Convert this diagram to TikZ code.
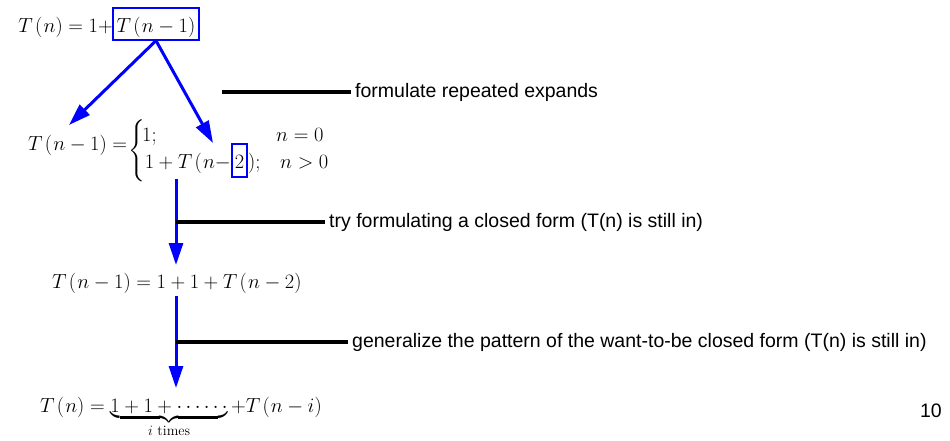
\RequirePackage{fix-cm}
\documentclass[tikz,border=0pt]{standalone}
\usepackage{amsmath}
\usepackage{fontspec}
\newfontfamily\arial{Liberation Sans}
\usetikzlibrary{arrows.meta}
\begin{document}
\begin{tikzpicture}[x=1pt,y=-1pt,
  mth/.style={inner sep=0pt, font=\fontsize{20.4}{24}\selectfont},
  lbl/.style={inner xsep=4pt, inner ysep=0pt, anchor=west, font=\arial\fontsize{19.5}{23}\selectfont},
  blu/.style={draw=blue, line width=3pt, -{Triangle[length=22pt,width=14pt]}},
  blk/.style={draw=black, line width=3.2pt},
  bx/.style={draw=blue, line width=1.3pt, inner sep=0pt}]
\useasboundingbox (0,0) rectangle (950,441);

% first formula
\node[mth, anchor=base east] (t1) at (113,33) {$T\mkern2mu(\mkern1mu n)=1+$};
\node[mth, bx, anchor=base, minimum width=86pt, text height=25pt, text depth=7pt] (tb) at (156,33) {$T\mkern2mu(\mkern1mu n-1)$};

% second formula
\node[mth, anchor=base west] (f2) at (28,150) {$T\mkern2mu(\mkern1mu n-1)=$};
\node[mth] (br) at (137,151) {$\left\{\vrule height 27pt depth 25pt width 0pt\right.$};
\node[mth, anchor=base west] (r1) at (142,142) {$1;$};
\node[mth, anchor=base east] (r2) at (231,168) {$1+T\mkern2mu(\mkern1mu n-$};
\node[mth, bx, anchor=base, minimum width=15pt, text height=24pt, text depth=9pt] (two) at (239.5,168) {$2$};
\node[mth, anchor=base west] (r2b) at (248,168) {$);$};
\node[mth, anchor=base west] (c1) at (276,142) {$n=0$};
\node[mth, anchor=base west] (c2) at (280,168) {$n>0$};

% third and fourth formulas
\node[mth, anchor=base west] (f3) at (52,288) {$T\mkern2mu(\mkern1mu n-1)=1+1+T\mkern2mu(\mkern1mu n-2)$};
\node[mth, anchor=base west] (f4) at (40,412) {$T\mkern2mu(\mkern1mu n)=\underbrace{1+1+\cdots\cdots}_{\vphantom{T}i\text{ times}}+T\mkern2mu(\mkern1mu n-i)$};

% page number
\node[inner sep=0pt, anchor=base east, font=\arial\fontsize{19.5}{23}\selectfont] (pg) at (942,417) {10};

% arrows
\coordinate (aL) at (69,125);
\coordinate (aR) at (213,143);
\draw[blu] (tb.south) -- (aL);
\draw[blu] (tb.south) -- (aR);
\coordinate (v1s) at (176,179);
\coordinate (v1e) at (176,265);
\draw[blu] (v1s) -- (v1e);
\coordinate (v2s) at (176,296);
\coordinate (v2e) at (176,388);
\draw[blu] (v2s) -- (v2e);

% labels
\coordinate (k0) at (222,92);
\node[lbl] (lab0) at (351,92) {formulate repeated expands};
\draw[blk] (k0) -- (lab0.west);
\coordinate (j1) at (176,222);
\node[lbl] (lab1) at (325,222) {try formulating a closed form (T(n) is still in)};
\draw[blk] (j1) -- (lab1.west);
\coordinate (j2) at (176,342);
\node[lbl] (lab2) at (348,342) {generalize the pattern of the want-to-be closed form (T(n) is still in)};
\draw[blk] (j2) -- (lab2.west);
\end{tikzpicture}
\end{document}
